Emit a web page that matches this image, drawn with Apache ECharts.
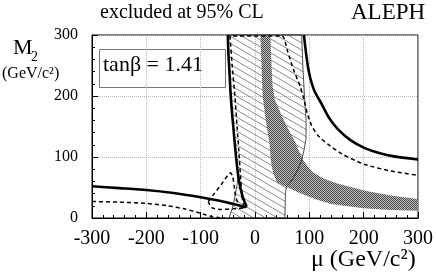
<!DOCTYPE html>
<html><head><meta charset="utf-8">
<script src="https://cdn.jsdelivr.net/npm/echarts@6/dist/echarts.min.js"></script>
<style>html,body{margin:0;padding:0;background:#fff}#c{width:436px;height:276px}</style>
</head><body><div id="c"></div>
<script>
// axis ticks
const xTicks = [-300, -200, -100, 0, 100, 200, 300];
const yTicks = [0, 100, 200, 300];

// thick solid contours [mu, M2]
const thickLeft = [[-300,52],[-250,49],[-200,46],[-150,41],[-100,34],[-70,29],[-45,24],[-27,20],[-18,18],[-16,20],[-19,26],[-23,36],[-27,50],[-31,70],[-34,93],[-37,120],[-40,150],[-43,180],[-45,205],[-47,240],[-49,270],[-50,300]];
const thickRight = [[90,300],[94,270],[98,245],[103,225],[110,207],[122,188],[135,166],[152,146],[175,128],[201,115],[230,106],[256,101],[300,96]];

// dashed contours
const dashLeft = [[-300,27],[-250,26],[-200,24],[-160,20],[-130,15],[-105,9],[-90,5],[-78,2],[-65,0.5],[-55,0]];
const dashLoop = [[-86,27],[-75,40],[-62,55],[-50,70],[-45,74],[-41,68],[-38,50],[-35,33],[-28,20],[-20,17],[-40,15],[-62,14],[-80,17],[-86,27]];
const dashUpper = [[-20,18],[-23,30],[-26,60],[-29,100],[-33,150],[-37,200],[-42,250],[-46,298.5],[50,298.5],[59,276],[71,243],[83,216],[90,195],[96,172],[104,152],[115,136],[134,121],[160,105],[201,88],[250,77],[300,70]];

// hatched region
const hatchRegion = [[-48,0],[-42,15],[-37,35],[-33,55],[-31,70],[-34,93],[-37,120],[-40,150],[-43,180],[-45,205],[-47,240],[-49,270],[-50,300],[86,300],[88,250],[91,200],[94,160],[94,130],[90,110],[85,92],[78,78],[70,65],[63,56],[58,52],[56,40],[55,0]];

// gray band
const grayBand = [[10,300],[28,300],[32,220],[36,195],[48,170],[60,148],[72,128],[80,112],[90,93],[105,76],[125,65],[150,57],[200,45],[250,37],[300,31],[300,12],[250,13],[200,16],[140,23],[110,31],[80,42],[58,51],[50,54],[40,59],[33,75],[29,95],[27,120],[20,160],[14,200],[12,250],[10,300]];

const FONT = '"Liberation Serif", "Times New Roman", serif';

function hatchPattern() {
  const w = 12, h = 7;
  const c = document.createElement('canvas'); c.width = w; c.height = h;
  const g = c.getContext('2d');
  g.strokeStyle = '#666'; g.lineWidth = 0.75;
  g.beginPath();
  for (let k = -3; k <= 3; k++) {
    g.moveTo(-w, -h + k * h); g.lineTo(2 * w, 2 * h + k * h);
  }
  g.stroke();
  return { image: c, repeat: 'repeat' };
}
function grayPattern() {
  const c = document.createElement('canvas'); c.width = 2; c.height = 2;
  const g = c.getContext('2d');
  g.fillStyle = '#c4c4c4'; g.fillRect(0, 0, 2, 2);
  g.fillStyle = '#444'; g.fillRect(0, 0, 1, 1); g.fillRect(1, 1, 1, 1);
  return { image: c, repeat: 'repeat' };
}

function polySeries(pts, style, z, kind) {
  return {
    type: 'custom', coordinateSystem: 'cartesian2d', z: z, silent: true,
    data: [[0, 0]],
    renderItem: function (params, api) {
      return { type: kind || 'polygon', shape: { points: pts.map(p => api.coord(p)) }, style: style };
    }
  };
}
function lineSeries(pts, width, type, z) {
  return {
    type: 'line', data: pts, showSymbol: false, silent: true, z: z, smooth: 0.2,
    lineStyle: { color: '#000', width: width, type: type }
  };
}

const chart = echarts.init(document.getElementById('c'), null, { renderer: 'canvas' });
const axisCommon = {
  type: 'value',
  axisLine: { show: true, onZero: false, lineStyle: { color: '#000', width: 1 } },
  axisTick: { show: true, inside: true, length: 6, lineStyle: { color: '#000' } },
  minorTick: { show: true, splitNumber: 5, length: 3, lineStyle: { color: '#000' } },
  splitLine: { show: true, lineStyle: { color: '#b8b8b8', type: 'dotted', width: 1 } }
};
chart.setOption({
  animation: false,
  grid: { left: 92, right: 15, top: 35, bottom: 58, show: true, borderColor: '#000', borderWidth: 1, backgroundColor: 'transparent' },
  xAxis: Object.assign({}, axisCommon, {
    min: xTicks[0], max: xTicks[xTicks.length - 1], interval: xTicks[1] - xTicks[0],
    axisLabel: { fontFamily: FONT, fontSize: 20, color: '#000', margin: 11 }
  }),
  yAxis: Object.assign({}, axisCommon, {
    min: yTicks[0], max: yTicks[yTicks.length - 1], interval: yTicks[1] - yTicks[0],
    axisLabel: { fontFamily: FONT, fontSize: 16, color: '#000', margin: 14 }
  }),
  series: [
    polySeries(hatchRegion, { fill: hatchPattern(), stroke: null }, 1),
    polySeries(grayBand, { fill: grayPattern(), stroke: null }, 2),
    polySeries(hatchRegion, { fill: null, stroke: '#222', lineWidth: 0.8 }, 3, 'polygon'),
    lineSeries(dashLeft, 1.5, [4, 3], 4),
    lineSeries(dashLoop, 1.5, [4, 3], 4),
    lineSeries(dashUpper, 1.5, [4, 3], 4),
    lineSeries(thickLeft, 2.6, 'solid', 5),
    lineSeries(thickRight, 2.6, 'solid', 5)
  ],
  graphic: [
    { type: 'text', left: 100, top: 3, style: { text: 'excluded at 95% CL', font: '20px ' + FONT, fill: '#000' } },
    { type: 'text', left: 351, top: 1, style: { text: 'ALEPH', font: '23px ' + FONT, fill: '#000' } },
    { type: 'text', left: 13, top: 37, style: { text: 'M', font: '22px ' + FONT, fill: '#000' } },
    { type: 'text', left: 31, top: 50, style: { text: '2', font: '14px ' + FONT, fill: '#000' } },
    { type: 'text', left: 2, top: 66, style: { text: '(GeV/c²)', font: '16px ' + FONT, fill: '#000' } },
    { type: 'text', left: 311, top: 248, style: { text: 'μ (GeV/c²)', font: '24px ' + FONT, fill: '#000' } },
    { type: 'rect', left: 97, top: 47, shape: { width: 126, height: 38 }, style: { fill: null, stroke: '#777', lineWidth: 1 } },
    { type: 'text', left: 103, top: 54, style: { text: 'tanβ = 1.41', font: '22px ' + FONT, fill: '#000' } }
  ]
});
</script>
</body></html>
